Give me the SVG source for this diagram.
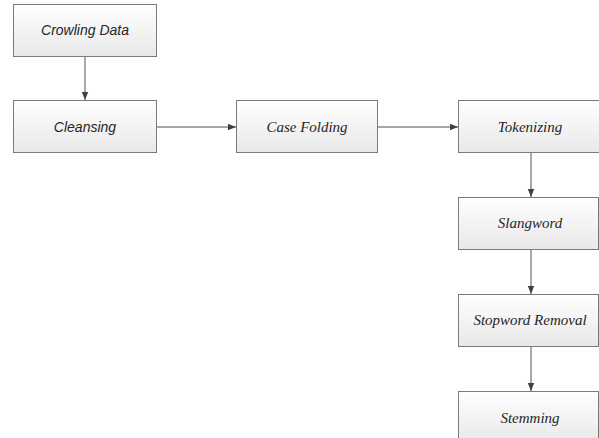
<svg xmlns="http://www.w3.org/2000/svg" width="599" height="438" viewBox="0 0 599 438">
<style>
.box{fill:url(#g);stroke:#7a7a7a;stroke-width:1}
.sans{font-family:"Liberation Sans",Arial,sans-serif;font-style:italic;font-size:14px;fill:#262626;text-anchor:middle}
.serif{font-family:"Liberation Serif","Times New Roman",serif;font-style:italic;font-size:15px;fill:#262626;text-anchor:middle}
.edge{stroke:#505050;stroke-width:1;fill:none;marker-end:url(#ah)}
</style>
<defs>
<linearGradient id="g" x1="0" y1="0" x2="0" y2="1">
<stop offset="0" stop-color="#ffffff"/>
<stop offset="1" stop-color="#e8e8e8"/>
</linearGradient>
<marker id="ah" viewBox="0 0 10 10" refX="10" refY="5" markerWidth="8" markerHeight="8" markerUnits="userSpaceOnUse" orient="auto">
<path d="M0,1 L10,5 L0,9 Z" fill="#404040"/>
</marker>
</defs>
<rect width="599" height="438" fill="#ffffff"/>
<g id="connectors">
<line class="edge" x1="85" y1="57" x2="85" y2="100"/>
<line class="edge" x1="157" y1="127" x2="236" y2="127"/>
<line class="edge" x1="378" y1="127" x2="458" y2="127"/>
<line class="edge" x1="531" y1="153" x2="531" y2="197"/>
<line class="edge" x1="531" y1="249" x2="531" y2="294"/>
<line class="edge" x1="531" y1="347" x2="531" y2="391"/>
</g>
<g id="crowling">
<rect class="box" x="13.5" y="4.5" width="143" height="52"/>
<text class="sans" x="85" y="35">Crowling Data</text>
</g>
<g id="cleansing">
<rect class="box" x="13.5" y="100.5" width="143" height="52"/>
<text class="sans" x="85" y="132">Cleansing</text>
</g>
<g id="casefolding">
<rect class="box" x="236.5" y="100.5" width="141" height="52"/>
<text class="serif" x="307" y="132">Case Folding</text>
</g>
<g id="tokenizing">
<rect class="box" x="458.5" y="100.5" width="144" height="52"/>
<text class="serif" x="530" y="132">Tokenizing</text>
</g>
<g id="slangword">
<rect class="box" x="458.5" y="197.5" width="140" height="52"/>
<text class="serif" x="530" y="228">Slangword</text>
</g>
<g id="stopword">
<rect class="box" x="458.5" y="294.5" width="140" height="52"/>
<text class="serif" x="530" y="325">Stopword Removal</text>
</g>
<g id="stemming">
<rect class="box" x="458.5" y="391.5" width="140" height="52"/>
<text class="serif" x="530" y="423">Stemming</text>
</g>
</svg>
